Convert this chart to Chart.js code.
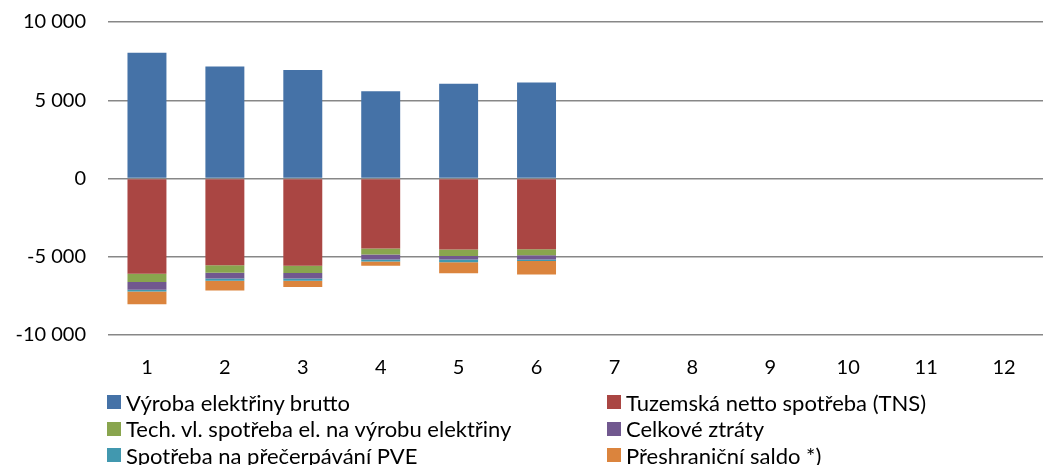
<!DOCTYPE html>
<html><head><meta charset="utf-8">
<script src="https://cdn.jsdelivr.net/npm/chart.js@4"></script>
<style>
body{margin:0;background:#fff;font-family:Lato,"Open Sans",sans-serif;}
#wrap{position:relative;width:1043px;height:465px;overflow:hidden;}
#c{position:absolute;left:0;top:-12px;}
#legend{position:absolute;left:107px;top:390px;width:936px;display:grid;grid-template-columns:500px 436px;row-gap:2.5px;font-size:22px;color:#000;}
.li{display:flex;align-items:center;height:24px;}
.sw{width:14px;height:14px;margin-right:5px;flex:none;}
</style></head><body>
<div id="wrap"><canvas id="c" width="1043" height="414"></canvas><div id="legend"></div></div>
<script>
const categories = ["1","2","3","4","5","6","7","8","9","10","11","12"];
const vyroba   = [8030, 7160, 6935, 5580, 6060, 6130, null, null, null, null, null, null];
const tns      = [-6080, -5550, -5570, -4470, -4540, -4520, null, null, null, null, null, null];
const techVl   = [-540, -470, -470, -390, -410, -380, null, null, null, null, null, null];
const ztraty   = [-490, -370, -350, -320, -230, -280, null, null, null, null, null, null];
const pve      = [-110, -150, -150, -130, -170, -90, null, null, null, null, null, null];
const saldo    = [-810, -620, -400, -270, -710, -860, null, null, null, null, null, null];
const seriesNames = ["Výroba elektřiny brutto","Tuzemská netto spotřeba (TNS)","Tech. vl. spotřeba el. na výrobu elektřiny","Celkové ztráty","Spotřeba na přečerpávání PVE","Přeshraniční saldo *)"];
const colors = ["#4572A7","#AA4643","#89A54E","#71588F","#4198AF","#DB843D"];
const yTicks = [-10000,-5000,0,5000,10000];

const series=[vyroba,tns,techVl,ztraty,pve,saldo];
const datasets=series.map((d,i)=>({label:seriesNames[i],data:d,backgroundColor:colors[i],borderWidth:0,stack:'s',barPercentage:0.5,categoryPercentage:1}));
const fmt=v=>{const s=Math.abs(v).toString().replace(/\B(?=(\d{3})+(?!\d))/g,' ');return (v<0?'-':'')+s;};
const chart=new Chart(document.getElementById('c'),{type:'bar',data:{labels:categories,datasets},
options:{responsive:false,animation:false,
layout:{padding:{top:0,right:0,left:0,bottom:0}},
plugins:{legend:{display:false},tooltip:{enabled:false}},
scales:{
x:{stacked:true,grid:{display:false,drawTicks:false},border:{display:false},afterFit:s=>{s.height=67;},ticks:{color:'#000',font:{family:'Lato',size:20},padding:21}},
y:{stacked:true,min:-10000,max:10000,afterBuildTicks:s=>{s.ticks=yTicks.map(v=>({value:v}));},
afterFit:s=>{s.width=108;},
grid:{color:'#878787',lineWidth:1.5,drawTicks:false},border:{display:false},
ticks:{color:'#000',font:{family:'Lato',size:20},padding:22,callback:v=>fmt(v)}}
}}});
const lg=document.getElementById('legend');
chart.data.datasets.forEach(ds=>{const d=document.createElement('div');d.className='li';d.innerHTML='<span class="sw" style="background:'+ds.backgroundColor+'"></span><span>'+ds.label+'</span>';lg.appendChild(d);});
</script></body></html>
